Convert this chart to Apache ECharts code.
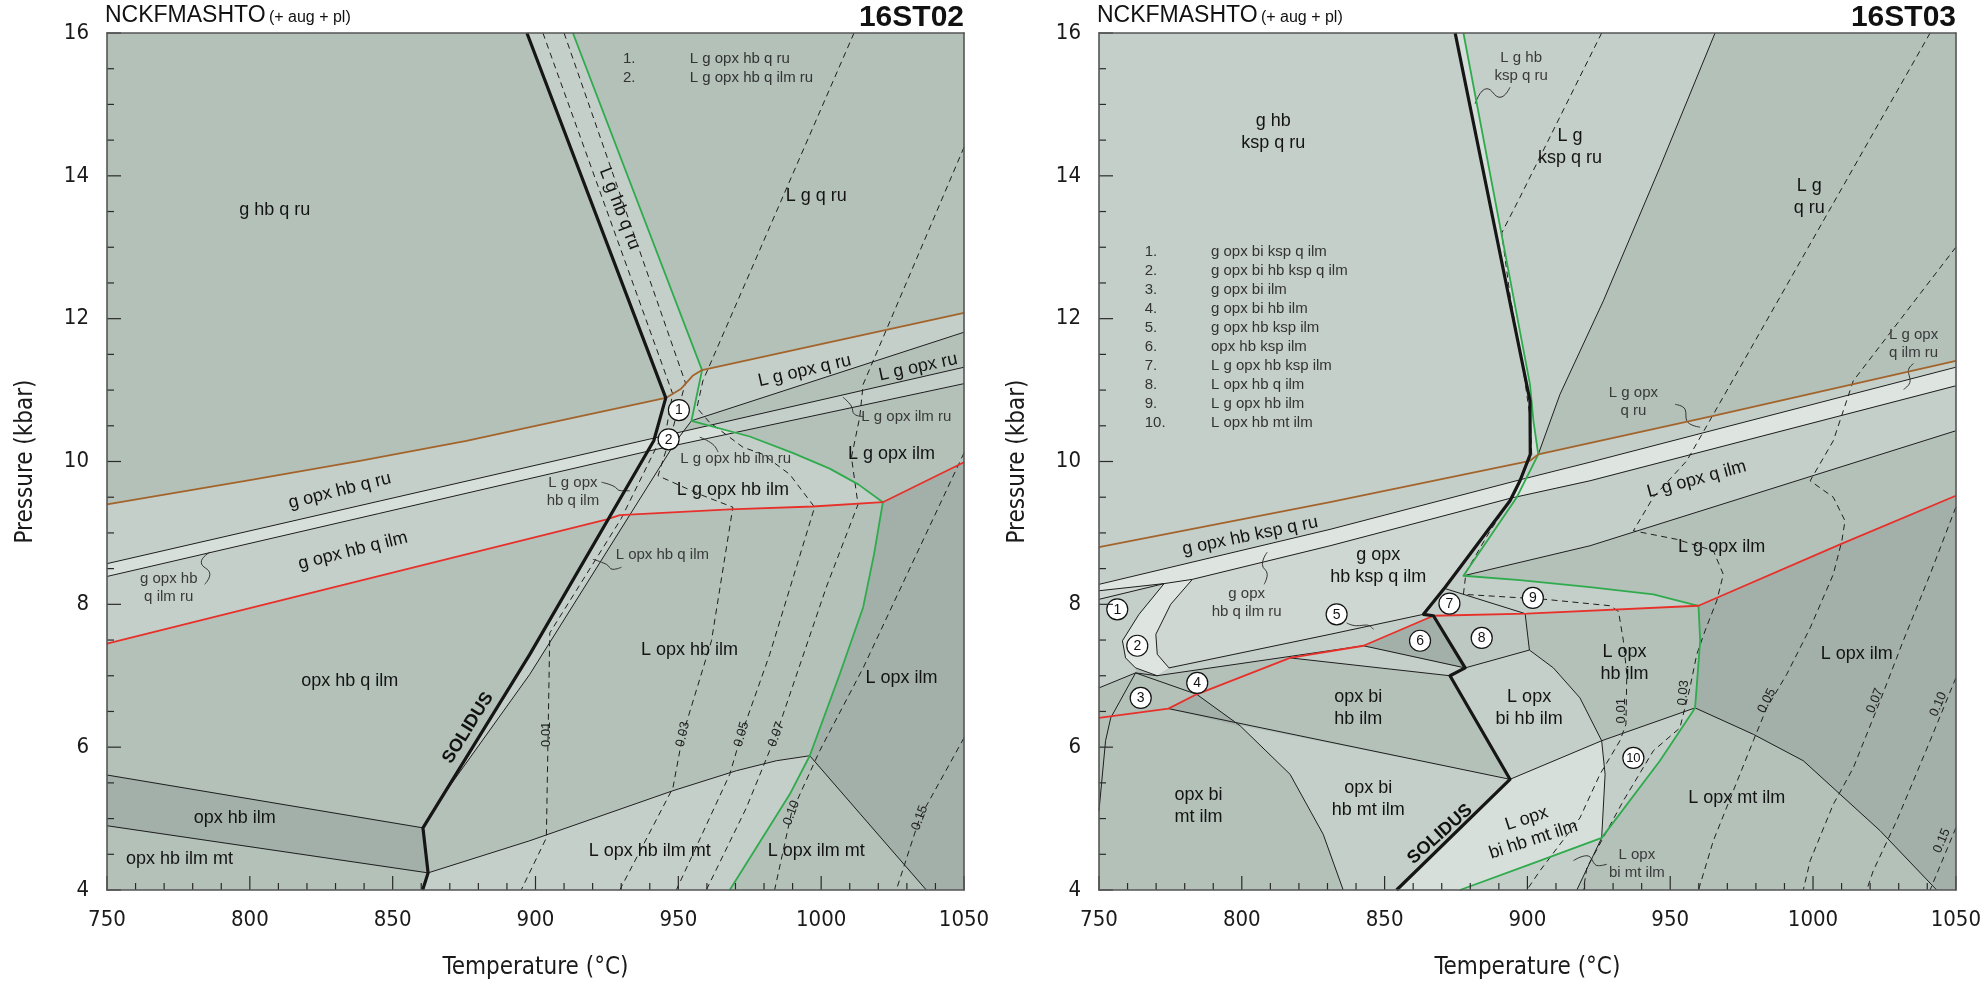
<!DOCTYPE html>
<html>
<head>
<meta charset="utf-8">
<title>NCKFMASHTO pseudosections 16ST02 / 16ST03</title>
<script src="https://cdn.jsdelivr.net/npm/echarts@6/dist/echarts.min.js"></script>
<style>
html, body { margin: 0; padding: 0; background: #ffffff; }
#chart { width: 1984px; height: 985px; }
</style>
</head>
<body>
<div id="chart"></div>
<script>
// ---------- axes ----------
const tempRange = [750, 1050];
const pressRange = [4, 16];
const tempStep = 50;
const pressStep = 2;
const tempMinorStep = 10;
const pressMinorStep = 0.5;

// =====================================================================
// 16ST02  (T in °C, P in kbar)
// =====================================================================
const solidusA = [[897,16],[945.6,10.89],[941.4,10.29],[898,7.30],[860.6,4.87],[862.4,4.24],[860.5,4.0]];
const greenA = [[913.1,16],[958.3,11.28],[954.6,10.57],[975,10.35],[990,10.12],[1003,9.9],[1013,9.68],[1021.6,9.43],[1018.5,8.7],[1014.7,7.96],[1006.5,7.02],[996,5.88],[989,5.34],[968,4.0]];
const redA = [[750,7.45],[925,9.19],[929.5,9.25],[968,9.33],[997.1,9.37],[1021.6,9.43],[1050,9.99]];
const brownA = [[750,9.40],[800,9.74],[838.5,10.01],[875.8,10.29],[898,10.48],[945.6,10.89],[951,11.02],[955,11.2],[958.3,11.28],[1050,12.08]];

const lineA1 = [[750,8.57],[941.7,10.33],[1050,11.32]];
const lineA2 = [[750,8.39],[940,10.15],[1050,11.09]];
const lineA3 = [[954.6,10.57],[1050,11.81]];
const lineA4 = [[954.6,10.57],[949.3,10.29],[898,7.02],[868.8,5.39]];
const lineA5 = [[750,5.61],[860.6,4.87]];
const lineA6 = [[750,4.90],[862.4,4.24]];
const lineA7 = [[862.4,4.24],[898,4.69],[948.1,5.39],[970.3,5.67],[984.3,5.81],[996,5.88]];
const lineA8 = [[996,5.88],[1036.8,4.0]];

// melt-fraction isopleths
const iso01A = [[902.6,16],[948,10.95],[946,10.5],[930,9.2],[905,7.6],[903.8,4.73],[895,4.0]];
const iso03A = [[910,16],[952.5,11.1],[948,10.45],[942.9,9.8],[957.5,9.54],[969.1,9.36],[961.6,7.49],[951.6,6.18],[948.1,5.43],[929.5,4.0]];
const iso05A = [[1011.5,16],[958.6,11.13],[956.5,10.75],[960.9,10.55],[972.6,10.2],[979.6,10.1],[989,9.82],[996,9.45],[997.7,9.36],[982,7.30],[972.1,6.18],[968,5.62],[949.3,4.0]];
const iso07A = [[1050,14.40],[1014.7,11.08],[1013.5,10.62],[1010.6,10.06],[1012.9,9.40],[1001.8,8.24],[984.3,6.18],[973.8,5.15],[959.8,4.0]];
const iso10A = [[1050,10.12],[1014.7,7.11],[999.5,5.95],[989.6,5.08],[983.7,4.0]];
const iso15A = [[1050,6.13],[1034.5,5.01],[1026.3,4.0]];

// shaded assemblage fields
const fieldA_LghbqRu = [[897,16],[945.6,10.89],[951,11.02],[955,11.2],[958.3,11.28],[913.1,16]];
const fieldA_gopxhbqRu = [[750,9.40],[800,9.74],[838.5,10.01],[875.8,10.29],[898,10.48],[945.6,10.89],[951,11.02],[955,11.2],[958.3,11.28],[954.6,10.57],[951.8,10.42],[941.7,10.33],[750,8.57]];
const fieldA_LgopxqRu = [[958.3,11.28],[1050,12.08],[1050,11.81],[954.6,10.57]];
const fieldA_ilmBand = [[750,8.39],[940,10.15],[969.9,10.405],[975,10.35],[990,10.12],[1003,9.9],[1013,9.68],[1021.6,9.43],[997.1,9.37],[968,9.33],[932.5,9.25],[898,7.02],[868.8,5.39],[898,7.30],[925,9.19],[750,7.45]];
const fieldA_LgopxilmRu = [[960.8,10.50],[1050,11.32],[1050,11.09],[969.9,10.405]];
const fieldA_ilmRuBand = [[750,8.57],[941.7,10.33],[960.8,10.50],[969.9,10.405],[940,10.15],[750,8.39]];
const fieldA_Lopxilm = [[1021.6,9.43],[1050,9.99],[1050,4],[1036.8,4],[996,5.88],[1006.5,7.02],[1014.7,7.96],[1018.5,8.7]];
const fieldA_Lopxhbilmmt = [[860.5,4],[862.4,4.24],[898,4.69],[948.1,5.39],[970.3,5.67],[984.3,5.81],[996,5.88],[989,5.34],[968,4.0]];
const fieldA_opxhbilm = [[750,5.61],[860.6,4.87],[862.4,4.24],[750,4.90]];

// leader ticks for small field names
const leaderA1 = [[786.0,8.73],[783.0,8.59],[786.0,8.42],[784.2,8.28]];
const leaderA2 = [[923.1,9.71],[927.1,9.66],[930.1,9.59],[933,9.59]];
const leaderA3 = [[920.1,8.63],[924.8,8.56],[927.1,8.49],[930.1,8.52]];
const leaderA4 = [[957.5,10.34],[962.1,10.24],[963.9,10.13]];
const leaderA5 = [[1007.6,10.90],[1010.5,10.78],[1011.7,10.66],[1014.7,10.63]];

// [T, P, text, rotation°, style]
const namesA = [
  [808.7, 13.52, 'g hb q ru', 0, 'main'],
  [929.4, 13.54, 'L g hb q ru', -69, 'main'],
  [998.3, 13.72, 'L g q ru', 0, 'main'],
  [994.2, 11.27, 'L g opx q ru', 13, 'main'],
  [1033.9, 11.32, 'L g opx ru', 12, 'main'],
  [1029.8, 10.62, 'L g opx ilm ru', 0, 'small'],
  [1024.6, 10.10, 'L g opx ilm', 0, 'main'],
  [970.1, 10.03, 'L g opx hb ilm ru', 0, 'small'],
  [969.1, 9.60, 'L g opx hb ilm', 0, 'main'],
  [913.1, 9.58, 'L g opx\nhb q ilm', 0, 'small'],
  [944.4, 8.69, 'L opx hb q ilm', 0, 'small'],
  [953.9, 7.36, 'L opx hb ilm', 0, 'main'],
  [1028.1, 6.97, 'L opx ilm', 0, 'main'],
  [940, 4.55, 'L opx hb ilm mt', 0, 'main'],
  [998.3, 4.54, 'L opx ilm mt', 0, 'main'],
  [831.5, 9.59, 'g opx hb q ru', 14, 'main'],
  [836.1, 8.75, 'g opx hb q ilm', 14, 'main'],
  [771.6, 8.23, 'g opx hb\nq ilm ru', 0, 'small'],
  [835, 6.92, 'opx hb q ilm', 0, 'main'],
  [794.7, 5.01, 'opx hb ilm', 0, 'main'],
  [775.4, 4.43, 'opx hb ilm mt', 0, 'main'],
  [876.4, 6.27, 'SOLIDUS', 58, 'bold'],
  [903.8, 6.18, '0.01', 90, 'iso'],
  [951.6, 6.18, '0.03', 77, 'iso'],
  [972.1, 6.18, '0.05', 74, 'iso'],
  [984.3, 6.18, '0.07', 70, 'iso'],
  [989.6, 5.08, '0.10', 70, 'iso'],
  [1034.5, 5.01, '0.15', 70, 'iso']
];
const circlesA = [[950.2, 10.72, '1'], [946.6, 10.31, '2']];
const keyNumsA = ['1.', '2.'];
const keyTextA = ['L g opx hb q ru', 'L g opx hb q ilm ru'];

// =====================================================================
// 16ST03
// =====================================================================
const solidusB = [[874.7,16],[900.9,10.85],[901,10.1],[897.4,9.73],[893.9,9.45],[871.2,8.24],[863.6,7.86],[867.1,7.84],[878.2,7.11],[872.9,7.0],[893.9,5.55],[854.2,4.0]];
const greenB = [[877.6,16],[900.9,11.08],[902.1,10.57],[903.8,10.10],[896.3,9.50],[877.6,8.40],[897.4,8.34],[921.9,8.24],[944.1,8.14],[959.9,7.98],[960.5,7.49],[958.7,6.55],[946.4,5.81],[926,4.73],[900.9,4.36],[876.4,4.0]];
const redB = [[750,6.41],[774.3,6.54],[784.2,6.74],[816.9,7.25],[842.6,7.42],[867.1,7.84],[899.8,7.87],[959.9,7.98],[1009.5,8.84],[1050,9.52]];
const brownB = [[750,8.80],[830.9,9.43],[900.9,10.01],[903.8,10.10],[965.1,10.64],[1050,11.41]];

const lineB1 = [[965.7,16],[946.4,14.12],[926.6,12.25],[911.4,10.94],[903.8,10.10]];
const lineB2 = [[750,8.28],[830.9,9.05],[898,9.75],[921.9,9.99],[1050,11.32]];
const lineB3 = [[750,8.19],[772.8,8.29],[782.7,8.35],[830.9,8.82],[894.5,9.49],[921.9,9.73],[1050,11.06]];
const lineB4 = [[877.6,8.40],[921.9,8.82],[1050,10.43]];
const lineB5 = [[750,8.07],[772.8,8.29]];
const lineB6 = [[772.8,8.29],[764.0,7.86],[758.2,7.49],[759.3,7.25],[762.8,7.11],[770.4,7.0]];
const lineB7 = [[782.7,8.35],[775.1,8.0],[769.9,7.58],[770.4,7.30],[774.5,7.11]];
const lineB8 = [[774.5,7.11],[830.9,7.58],[863.6,7.86]];
const lineB9 = [[770.2,7.0],[842.6,7.42],[878.2,7.11]];
const lineB10 = [[816.9,7.25],[872.9,7.0]];
const lineB11 = [[750,6.83],[762.8,7.04],[770.4,7.0]];
const lineB12 = [[762.8,7.04],[754.1,6.41],[752.3,6.09],[750,5.11]];
const lineB13 = [[762.8,7.04],[784.2,6.74],[799.4,6.30],[816.9,5.62],[828.5,4.78],[835.5,4.0]];
const lineB14 = [[774.3,6.54],[893.9,5.55]];
const lineB15 = [[871.2,8.22],[899.2,7.87],[900.7,7.36],[878.2,7.11]];
const lineB16 = [[900.7,7.36],[909.1,7.11],[918.4,6.69],[926,6.09],[927.2,5.62],[926,4.73],[917.3,4.0]];
const lineB17 = [[893.9,5.55],[926,6.09],[958.7,6.55]];
const lineB18 = [[958.7,6.55],[979.1,6.18],[996.6,5.81],[1009.5,5.34],[1023.5,4.83],[1043.3,4.0]];

const iso01B = [[926,16],[897.4,13.7],[891,13.2],[894,12.3],[898.5,11.3],[901,10.6],[901.5,10.1],[895.5,9.55],[886.5,9.0],[878.5,8.45],[877.6,8.14],[906.2,8.07],[929,7.98],[931.9,7.9],[933.6,7.49],[934.8,7.02],[934.5,6.32],[932.4,6.09],[925.4,5.62],[918.4,5.01],[904.4,4.27],[899.8,4.0]];
const iso03B = [[1041,16],[965.1,10.66],[955.8,10.01],[944.1,9.50],[937.1,9.03],[952.3,8.91],[965.1,8.75],[968.6,8.42],[966.3,8.05],[962.2,7.63],[959.3,7.30],[956.9,6.83],[953.4,6.27],[944.1,5.95],[933.6,5.25],[920.8,4.31],[919.6,4.0]];
const iso05B = [[1050,13.0],[1014.1,11.13],[1007.1,10.29],[999,9.73],[1007.1,9.50],[1011.2,9.17],[1010.1,8.89],[1007.1,8.42],[999,7.67],[990.8,7.02],[983.8,6.55],[979.1,6.09],[972.1,5.39],[965.1,4.69],[959.9,4.0]];
const iso07B = [[1050,9.36],[1041,8.42],[1031.6,7.49],[1023.5,6.65],[1014.1,5.71],[1007.1,5.20],[999,4.41],[996.6,4.0]];
const iso10B = [[1050,6.97],[1041,6.09],[1029.3,4.97],[1021.1,4.27],[1018.8,4.0]];
const iso15B = [[1050,4.87],[1041,4.0]];

const fieldB_upperLeft = [[750,16],[874.7,16],[900.9,10.85],[901,10.1],[900.9,10.01],[897.4,9.73],[830.9,9.05],[750,8.28]];
const fieldB_meltBand = [[874.7,16],[900.9,10.85],[901,10.1],[903.8,10.10],[902.1,10.57],[900.9,11.08],[877.6,16]];
const fieldB_Lgkspqru = [[877.6,16],[900.9,11.08],[902.1,10.57],[903.8,10.10],[911.4,10.94],[926.6,12.25],[946.4,14.12],[965.7,16]];
const fieldB_lightRight = [[903.8,10.10],[965.1,10.64],[1050,11.41],[1050,11.32],[921.9,9.99],[899.5,9.76],[896.3,9.50],[877.6,8.40],[897.4,8.34],[921.9,8.24],[944.1,8.14],[959.9,7.98],[899.8,7.87],[867.1,7.84],[863.6,7.86],[871.2,8.24],[893.9,9.45],[897.4,9.73],[901,10.1]];
const fieldB_ruIlmBand = [[750,8.28],[830.9,9.05],[898,9.75],[921.9,9.99],[1050,11.32],[1050,11.06],[921.9,9.73],[894.5,9.49],[830.9,8.82],[782.7,8.35],[772.8,8.29],[750,8.19]];
const fieldB_Lgopxqilm = [[896.3,9.50],[921.9,9.73],[1050,11.06],[1050,10.43],[921.9,8.82],[877.6,8.40]];
const fieldB_gopxhbkspqilm = [[782.7,8.35],[830.9,8.82],[894.5,9.49],[893.9,9.45],[871.2,8.24],[863.6,7.86],[830.9,7.58],[774.5,7.11],[770.4,7.30],[769.9,7.58],[775.1,8.0]];
const fieldB_crescent = [[772.8,8.29],[764.0,7.86],[758.2,7.49],[759.3,7.25],[762.8,7.11],[770.4,7.0],[774.5,7.11],[770.4,7.30],[769.9,7.58],[775.1,8.0],[782.7,8.35]];
const fieldB_wedge = [[750,8.19],[772.8,8.29],[750,8.07]];
const fieldB_field1 = [[750,8.07],[772.8,8.29],[764.0,7.86],[758.2,7.49],[759.3,7.25],[762.8,7.11],[762.8,7.04],[750,6.83]];
const fieldB_field5 = [[774.5,7.11],[830.9,7.58],[863.6,7.86],[867.1,7.84],[842.6,7.42],[770.2,7.0],[770.4,7.0]];
const fieldB_sliver = [[816.9,7.25],[842.6,7.42],[878.2,7.11],[872.9,7.0]];
const fieldB_field6 = [[842.6,7.42],[867.1,7.84],[878.2,7.11]];
const fieldB_field8 = [[867.1,7.84],[899.2,7.87],[900.7,7.36],[878.2,7.11]];
const fieldB_belowRed = [[774.3,6.54],[784.2,6.74],[799.4,6.30]];
const fieldB_opxbihbmtilm = [[799.4,6.30],[893.9,5.55],[854.2,4.0],[835.5,4.0],[828.5,4.78],[816.9,5.62]];
const fieldB_Lopxbihbilm = [[878.2,7.11],[900.7,7.36],[909.1,7.11],[918.4,6.69],[926,6.09],[893.9,5.55],[872.9,7.0]];
const fieldB_field10 = [[926,6.09],[958.7,6.55],[946.4,5.81],[926,4.73],[927.2,5.62]];
const fieldB_Lopxbihbmtilm = [[893.9,5.55],[926,6.09],[927.2,5.62],[926,4.73],[900.9,4.36],[876.4,4.0],[854.2,4.0]];
const fieldB_Lopxbimtilm = [[876.4,4.0],[900.9,4.36],[926,4.73],[917.3,4.0]];
const fieldB_Lopxilm = [[959.9,7.98],[1009.5,8.84],[1050,9.52],[1050,4.0],[1043.3,4.0],[1023.5,4.83],[1009.5,5.34],[996.6,5.81],[979.1,6.18],[958.7,6.55],[960.5,7.49]];

const leaderB1 = [[881.7,15.01],[885.8,15.22],[890.4,15.10],[893.9,15.24]];
const leaderB2 = [[808.9,8.73],[807.2,8.56],[808.9,8.42],[807.8,8.28]];
const leaderB3 = [[836.7,7.74],[840.2,7.70],[843.7,7.71],[846.1,7.65]];
const leaderB4 = [[951.7,10.80],[955.2,10.73],[955.8,10.57],[960.5,10.48]];
const leaderB5 = [[1035.2,11.37],[1033.4,11.27],[1034.0,11.13],[1031.7,11.01]];
const leaderB6 = [[916.1,4.41],[920.8,4.48],[924.8,4.34],[927.8,4.36]];

const namesB = [
  [811.0, 14.61, 'g hb\nksp q ru', 0, 'main'],
  [897.8, 15.53, 'L g hb\nksp q ru', 0, 'small'],
  [914.9, 14.40, 'L g\nksp q ru', 0, 'main'],
  [998.7, 13.70, 'L g\nq ru', 0, 'main'],
  [937.1, 10.83, 'L g opx\nq ru', 0, 'small'],
  [1035.2, 11.65, 'L g opx\nq ilm ru', 0, 'small'],
  [959.3, 9.75, 'L g opx q ilm', 15, 'main'],
  [968, 8.80, 'L g opx ilm', 0, 'main'],
  [934, 7.18, 'L opx\nhb ilm', 0, 'main'],
  [1015.3, 7.30, 'L opx ilm', 0, 'main'],
  [973.3, 5.29, 'L opx mt ilm', 0, 'main'],
  [938.3, 4.36, 'L opx\nbi mt ilm', 0, 'small'],
  [900.6, 6.55, 'L opx\nbi hb ilm', 0, 'main'],
  [900.9, 4.85, 'L opx\nbi hb mt ilm', 18, 'main'],
  [840.8, 6.55, 'opx bi\nhb ilm', 0, 'main'],
  [784.8, 5.18, 'opx bi\nmt ilm', 0, 'main'],
  [844.3, 5.28, 'opx bi\nhb mt ilm', 0, 'main'],
  [847.8, 8.54, 'g opx\nhb ksp q ilm', 0, 'main'],
  [801.7, 8.02, 'g opx\nhb q ilm ru', 0, 'small'],
  [802.9, 8.96, 'g opx hb ksp q ru', 11.5, 'main'],
  [869.4, 4.78, 'SOLIDUS', 42, 'bold'],
  [933, 6.51, '0.01', 90, 'iso'],
  [954.6, 6.76, '0.03', 85, 'iso'],
  [983.8, 6.65, '0.05', 63, 'iso'],
  [1021.7, 6.65, '0.07', 68, 'iso'],
  [1043.9, 6.60, '0.10', 67, 'iso'],
  [1045.1, 4.69, '0.15', 67, 'iso']
];
const circlesB = [
  [756.4, 7.93, '1'], [763.4, 7.42, '2'], [764.6, 6.69, '3'], [784.4, 6.90, '4'],
  [833.2, 7.86, '5'], [862.4, 7.49, '6'], [872.7, 8.01, '7'], [884.0, 7.53, '8'],
  [901.9, 8.09, '9'], [937.1, 5.85, '10']
];
const keyNumsB = ['1.', '2.', '3.', '4.', '5.', '6.', '7.', '8.', '9.', '10.'];
const keyTextB = [
  'g opx bi ksp q ilm', 'g opx bi hb ksp q ilm', 'g opx bi ilm', 'g opx bi hb ilm',
  'g opx hb ksp ilm', 'opx hb ksp ilm', 'L g opx hb ksp ilm', 'L opx hb q ilm',
  'L g opx hb ilm', 'L opx hb mt ilm'
];

// ---------------------------------------------------------------------
// styling
// ---------------------------------------------------------------------
const shade = {
  mid: '#b3c1b9', light: '#c5cfc9', cream: '#ced7d2', pale: '#d6dfda',
  palest: '#dee5e1', soft: '#bcc8c1', dark: '#a3b0a9'
};
const ink = '#161616';
const thinInk = '#1e1e1e';
const greenInk = '#2fab4d';
const redInk = '#e8302a';
const brownInk = '#a3642c';
const plotFont = "'Liberation Sans', Arial, Helvetica, sans-serif";
const axisFont = "'Liberation Sans Narrow', 'DejaVu Sans Condensed', 'Liberation Sans', Arial, sans-serif";
const textKinds = {
  main:  { size: 18, color: '#141414', weight: 'normal', lh: 22 },
  small: { size: 15, color: '#3a3a3a', weight: 'normal', lh: 18 },
  bold:  { size: 18, color: '#111111', weight: 'bold',   lh: 22 },
  iso:   { size: 13, color: '#222222', weight: 'normal', lh: 15 },
  key:   { size: 15, color: '#333333', weight: 'normal', lh: 18 }
};

const frameA = [[tempRange[0], pressRange[0]], [tempRange[1], pressRange[0]], [tempRange[1], pressRange[1]], [tempRange[0], pressRange[1]]];

const fillsA = [
  { pts: frameA, color: shade.mid },
  { pts: fieldA_LghbqRu, color: shade.light },
  { pts: fieldA_gopxhbqRu, color: shade.light },
  { pts: fieldA_LgopxqRu, color: shade.light },
  { pts: fieldA_ilmBand, color: shade.light },
  { pts: fieldA_LgopxilmRu, color: shade.light },
  { pts: fieldA_ilmRuBand, color: shade.pale },
  { pts: fieldA_Lopxilm, color: shade.dark },
  { pts: fieldA_Lopxhbilmmt, color: shade.light },
  { pts: fieldA_opxhbilm, color: shade.dark }
];
const fillsB = [
  { pts: frameA, color: shade.mid },
  { pts: fieldB_upperLeft, color: shade.light },
  { pts: fieldB_meltBand, color: shade.pale },
  { pts: fieldB_Lgkspqru, color: shade.light },
  { pts: fieldB_lightRight, color: shade.light },
  { pts: fieldB_ruIlmBand, color: shade.palest },
  { pts: fieldB_Lgopxqilm, color: shade.light },
  { pts: fieldB_gopxhbkspqilm, color: shade.cream },
  { pts: fieldB_crescent, color: shade.palest },
  { pts: fieldB_wedge, color: shade.cream },
  { pts: fieldB_field1, color: shade.light },
  { pts: fieldB_field5, color: shade.light },
  { pts: fieldB_sliver, color: shade.light },
  { pts: fieldB_field6, color: shade.dark },
  { pts: fieldB_field8, color: shade.soft },
  { pts: fieldB_belowRed, color: shade.dark },
  { pts: fieldB_opxbihbmtilm, color: shade.light },
  { pts: fieldB_Lopxbihbilm, color: shade.light },
  { pts: fieldB_field10, color: shade.light },
  { pts: fieldB_Lopxbihbmtilm, color: shade.pale },
  { pts: fieldB_Lopxbimtilm, color: shade.light },
  { pts: fieldB_Lopxilm, color: shade.dark }
];

// ---------------------------------------------------------------------
// series builders
// ---------------------------------------------------------------------
const series = [];

function addFills(ax, list) {
  series.push({
    type: 'custom', xAxisIndex: ax, yAxisIndex: ax, silent: true, z: 1, clip: true,
    data: list.map(f => f.pts[0]),
    renderItem: (params, api) => {
      const f = list[params.dataIndex];
      return {
        type: 'polygon',
        shape: { points: f.pts.map(p => api.coord(p)) },
        style: { fill: f.color, stroke: f.color, lineWidth: 0.6 }
      };
    }
  });
}

function addLine(ax, pts, color, width, dash, z, smooth) {
  series.push({
    type: 'line', xAxisIndex: ax, yAxisIndex: ax, data: pts,
    symbol: 'none', showSymbol: false, silent: true, smooth: smooth || false, z: z,
    lineStyle: { color: color, width: width, type: dash || 'solid', join: 'round', cap: 'butt' },
    emphasis: { disabled: true }
  });
}

function addTexts(ax, list) {
  series.push({
    type: 'custom', xAxisIndex: ax, yAxisIndex: ax, silent: true, z: 8,
    data: list.map(n => [n[0], n[1]]),
    renderItem: (params, api) => {
      const n = list[params.dataIndex];
      const k = textKinds[n[4]];
      const c = api.coord([n[0], n[1]]);
      return {
        type: 'text', x: c[0], y: c[1], rotation: (n[3] || 0) * Math.PI / 180,
        style: {
          text: n[2], fill: k.color, fontSize: k.size, fontWeight: k.weight,
          fontFamily: plotFont, lineHeight: k.lh, align: n[5] || 'center', verticalAlign: 'middle'
        }
      };
    }
  });
}

function addCircles(ax, list) {
  series.push({
    type: 'custom', xAxisIndex: ax, yAxisIndex: ax, silent: true, z: 9,
    data: list.map(n => [n[0], n[1]]),
    renderItem: (params, api) => {
      const n = list[params.dataIndex];
      const c = api.coord([n[0], n[1]]);
      return {
        type: 'group', x: c[0], y: c[1],
        children: [
          { type: 'circle', shape: { cx: 0, cy: 0, r: 10.5 }, style: { fill: '#ffffff', stroke: '#111111', lineWidth: 1.2 } },
          { type: 'text', x: 0, y: 0.5, style: { text: n[2], fill: '#111111', fontSize: n[2].length > 1 ? 13 : 14, fontFamily: plotFont, align: 'center', verticalAlign: 'middle' } }
        ]
      };
    }
  });
}

// inward tick marks on the temperature (bottom) and pressure (left) edges,
// placed through the axis scale; every major step gets a longer mark
function addTicks(ax) {
  const marks = [];
  const nT = Math.round((tempRange[1] - tempRange[0]) / tempMinorStep);
  for (let i = 0; i <= nT; i++) {
    const t = tempRange[0] + i * tempMinorStep;
    marks.push({ dir: 'x', v: t, major: i % Math.round(tempStep / tempMinorStep) === 0 });
  }
  const nP = Math.round((pressRange[1] - pressRange[0]) / pressMinorStep);
  for (let i = 0; i <= nP; i++) {
    const p = pressRange[0] + i * pressMinorStep;
    marks.push({ dir: 'y', v: p, major: i % Math.round(pressStep / pressMinorStep) === 0 });
  }
  series.push({
    type: 'custom', xAxisIndex: ax, yAxisIndex: ax, silent: true, z: 12,
    data: marks.map(m => m.dir === 'x' ? [m.v, pressRange[0]] : [tempRange[0], m.v]),
    renderItem: (params, api) => {
      const m = marks[params.dataIndex];
      const len = m.major ? 14 : 7;
      if (m.dir === 'x') {
        const c = api.coord([m.v, pressRange[0]]);
        return { type: 'line', shape: { x1: c[0], y1: c[1], x2: c[0], y2: c[1] - len }, style: { stroke: '#2a2a2a', lineWidth: 1.2 } };
      }
      const c = api.coord([tempRange[0], m.v]);
      return { type: 'line', shape: { x1: c[0], y1: c[1], x2: c[0] + len, y2: c[1] }, style: { stroke: '#2a2a2a', lineWidth: 1.2 } };
    }
  });
}

// numbered key rows laid out below a starting pressure
function keyRows(nums, texts, numT, textT, topP, stepP) {
  const rows = [];
  nums.forEach((s, i) => {
    rows.push([numT, topP - i * stepP, s, 0, 'key', 'left']);
    rows.push([textT, topP - i * stepP, texts[i], 0, 'key', 'left']);
  });
  return rows;
}

const dash = [6, 4.5];

function buildPanel(ax, fills, thin, isos, colored, solidus, leaders, names, circles, keys) {
  addFills(ax, fills);
  thin.forEach(l => addLine(ax, l, thinInk, 1, 'solid', 3));
  isos.forEach(l => addLine(ax, l, thinInk, 1, dash, 3));
  leaders.forEach(l => addLine(ax, l, '#333333', 1, 'solid', 3, 0.5));
  addLine(ax, colored.green, greenInk, 1.8, 'solid', 4);
  addLine(ax, colored.red, redInk, 1.8, 'solid', 4);
  addLine(ax, colored.brown, brownInk, 1.8, 'solid', 4);
  addLine(ax, solidus, ink, 3.2, 'solid', 5);
  addTexts(ax, names.concat(keys));
  addCircles(ax, circles);
  addTicks(ax);
}

buildPanel(0, fillsA,
  [lineA1, lineA2, lineA3, lineA4, lineA5, lineA6, lineA7, lineA8],
  [iso01A, iso03A, iso05A, iso07A, iso10A, iso15A],
  { green: greenA, red: redA, brown: brownA },
  solidusA,
  [leaderA1, leaderA2, leaderA3, leaderA4, leaderA5],
  namesA, circlesA,
  keyRows(keyNumsA, keyTextA, 930.6, 954, 15.64, 0.266));

buildPanel(2, fillsB,
  [lineB1, lineB2, lineB3, lineB4, lineB5, lineB6, lineB7, lineB8, lineB9, lineB10, lineB11, lineB12, lineB13, lineB14, lineB15, lineB16, lineB17, lineB18],
  [iso01B, iso03B, iso05B, iso07B, iso10B, iso15B],
  { green: greenB, red: redB, brown: brownB },
  solidusB,
  [leaderB1, leaderB2, leaderB3, leaderB4, leaderB5, leaderB6],
  namesB, circlesB,
  keyRows(keyNumsB, keyTextB, 766.0, 789.2, 12.94, 0.267));

// ---------------------------------------------------------------------
// axes: frame lines on their own layer above the shaded fields
// ---------------------------------------------------------------------
const frameLine = { show: true, onZero: false, lineStyle: { color: '#555555', width: 1.6 } };
const plainNumber = v => String(v);

function xAxes(grid) {
  return [{
    gridIndex: grid, type: 'value', min: tempRange[0], max: tempRange[1], interval: tempStep, position: 'bottom',
    zlevel: 1, z: 10,
    axisLine: frameLine,
    axisTick: { show: false }, minorTick: { show: false },
    axisLabel: { show: true, margin: 19, fontSize: 22, color: '#1a1a1a', fontFamily: axisFont, formatter: plainNumber },
    splitLine: { show: false }, minorSplitLine: { show: false },
    name: 'Temperature (°C)', nameLocation: 'middle', nameGap: 66,
    nameTextStyle: { fontSize: 24, color: '#1a1a1a', fontFamily: axisFont }
  }, {
    gridIndex: grid, type: 'value', min: tempRange[0], max: tempRange[1], position: 'top',
    zlevel: 1, z: 10,
    axisLine: frameLine, axisTick: { show: false }, axisLabel: { show: false }, splitLine: { show: false }
  }];
}

function yAxes(grid) {
  return [{
    gridIndex: grid, type: 'value', min: pressRange[0], max: pressRange[1], interval: pressStep, position: 'left',
    zlevel: 1, z: 10,
    axisLine: frameLine,
    axisTick: { show: false }, minorTick: { show: false },
    axisLabel: { show: true, margin: 18, fontSize: 22, color: '#1a1a1a', fontFamily: axisFont, formatter: plainNumber },
    splitLine: { show: false }, minorSplitLine: { show: false },
    name: 'Pressure (kbar)', nameLocation: 'middle', nameGap: 69, nameRotate: 90,
    nameTextStyle: { fontSize: 24, color: '#1a1a1a', fontFamily: axisFont }
  }, {
    gridIndex: grid, type: 'value', min: pressRange[0], max: pressRange[1], position: 'right',
    zlevel: 1, z: 10,
    axisLine: frameLine, axisTick: { show: false }, axisLabel: { show: false }, splitLine: { show: false }
  }];
}

function heading(leftPx) {
  return {
    type: 'text', left: leftPx, top: 4, z: 10,
    style: {
      text: '{a|NCKFMASHTO} {b|(+ aug + pl)}',
      rich: {
        a: { fontSize: 23, fontFamily: plotFont, fill: '#111111' },
        b: { fontSize: 16, fontFamily: plotFont, fill: '#111111', padding: [4, 0, 0, 0] }
      }
    }
  };
}

function sampleTag(name, rightPx) {
  return {
    type: 'text', right: rightPx, top: 3, z: 10,
    style: { text: name, fontSize: 30, fontWeight: 'bold', fontFamily: plotFont, fill: '#111111' }
  };
}

const chart = echarts.init(document.getElementById('chart'), null, { renderer: 'canvas' });
chart.setOption({
  backgroundColor: '#ffffff',
  animation: false,
  grid: [
    { left: 107, top: 33, width: 857, height: 857 },
    { left: 1099, top: 33, width: 857, height: 857 }
  ],
  xAxis: xAxes(0).concat(xAxes(1)),
  yAxis: yAxes(0).concat(yAxes(1)),
  graphic: [heading(105), sampleTag('16ST02', 1020), heading(1097), sampleTag('16ST03', 28)],
  series: series
});
</script>
</body>
</html>
